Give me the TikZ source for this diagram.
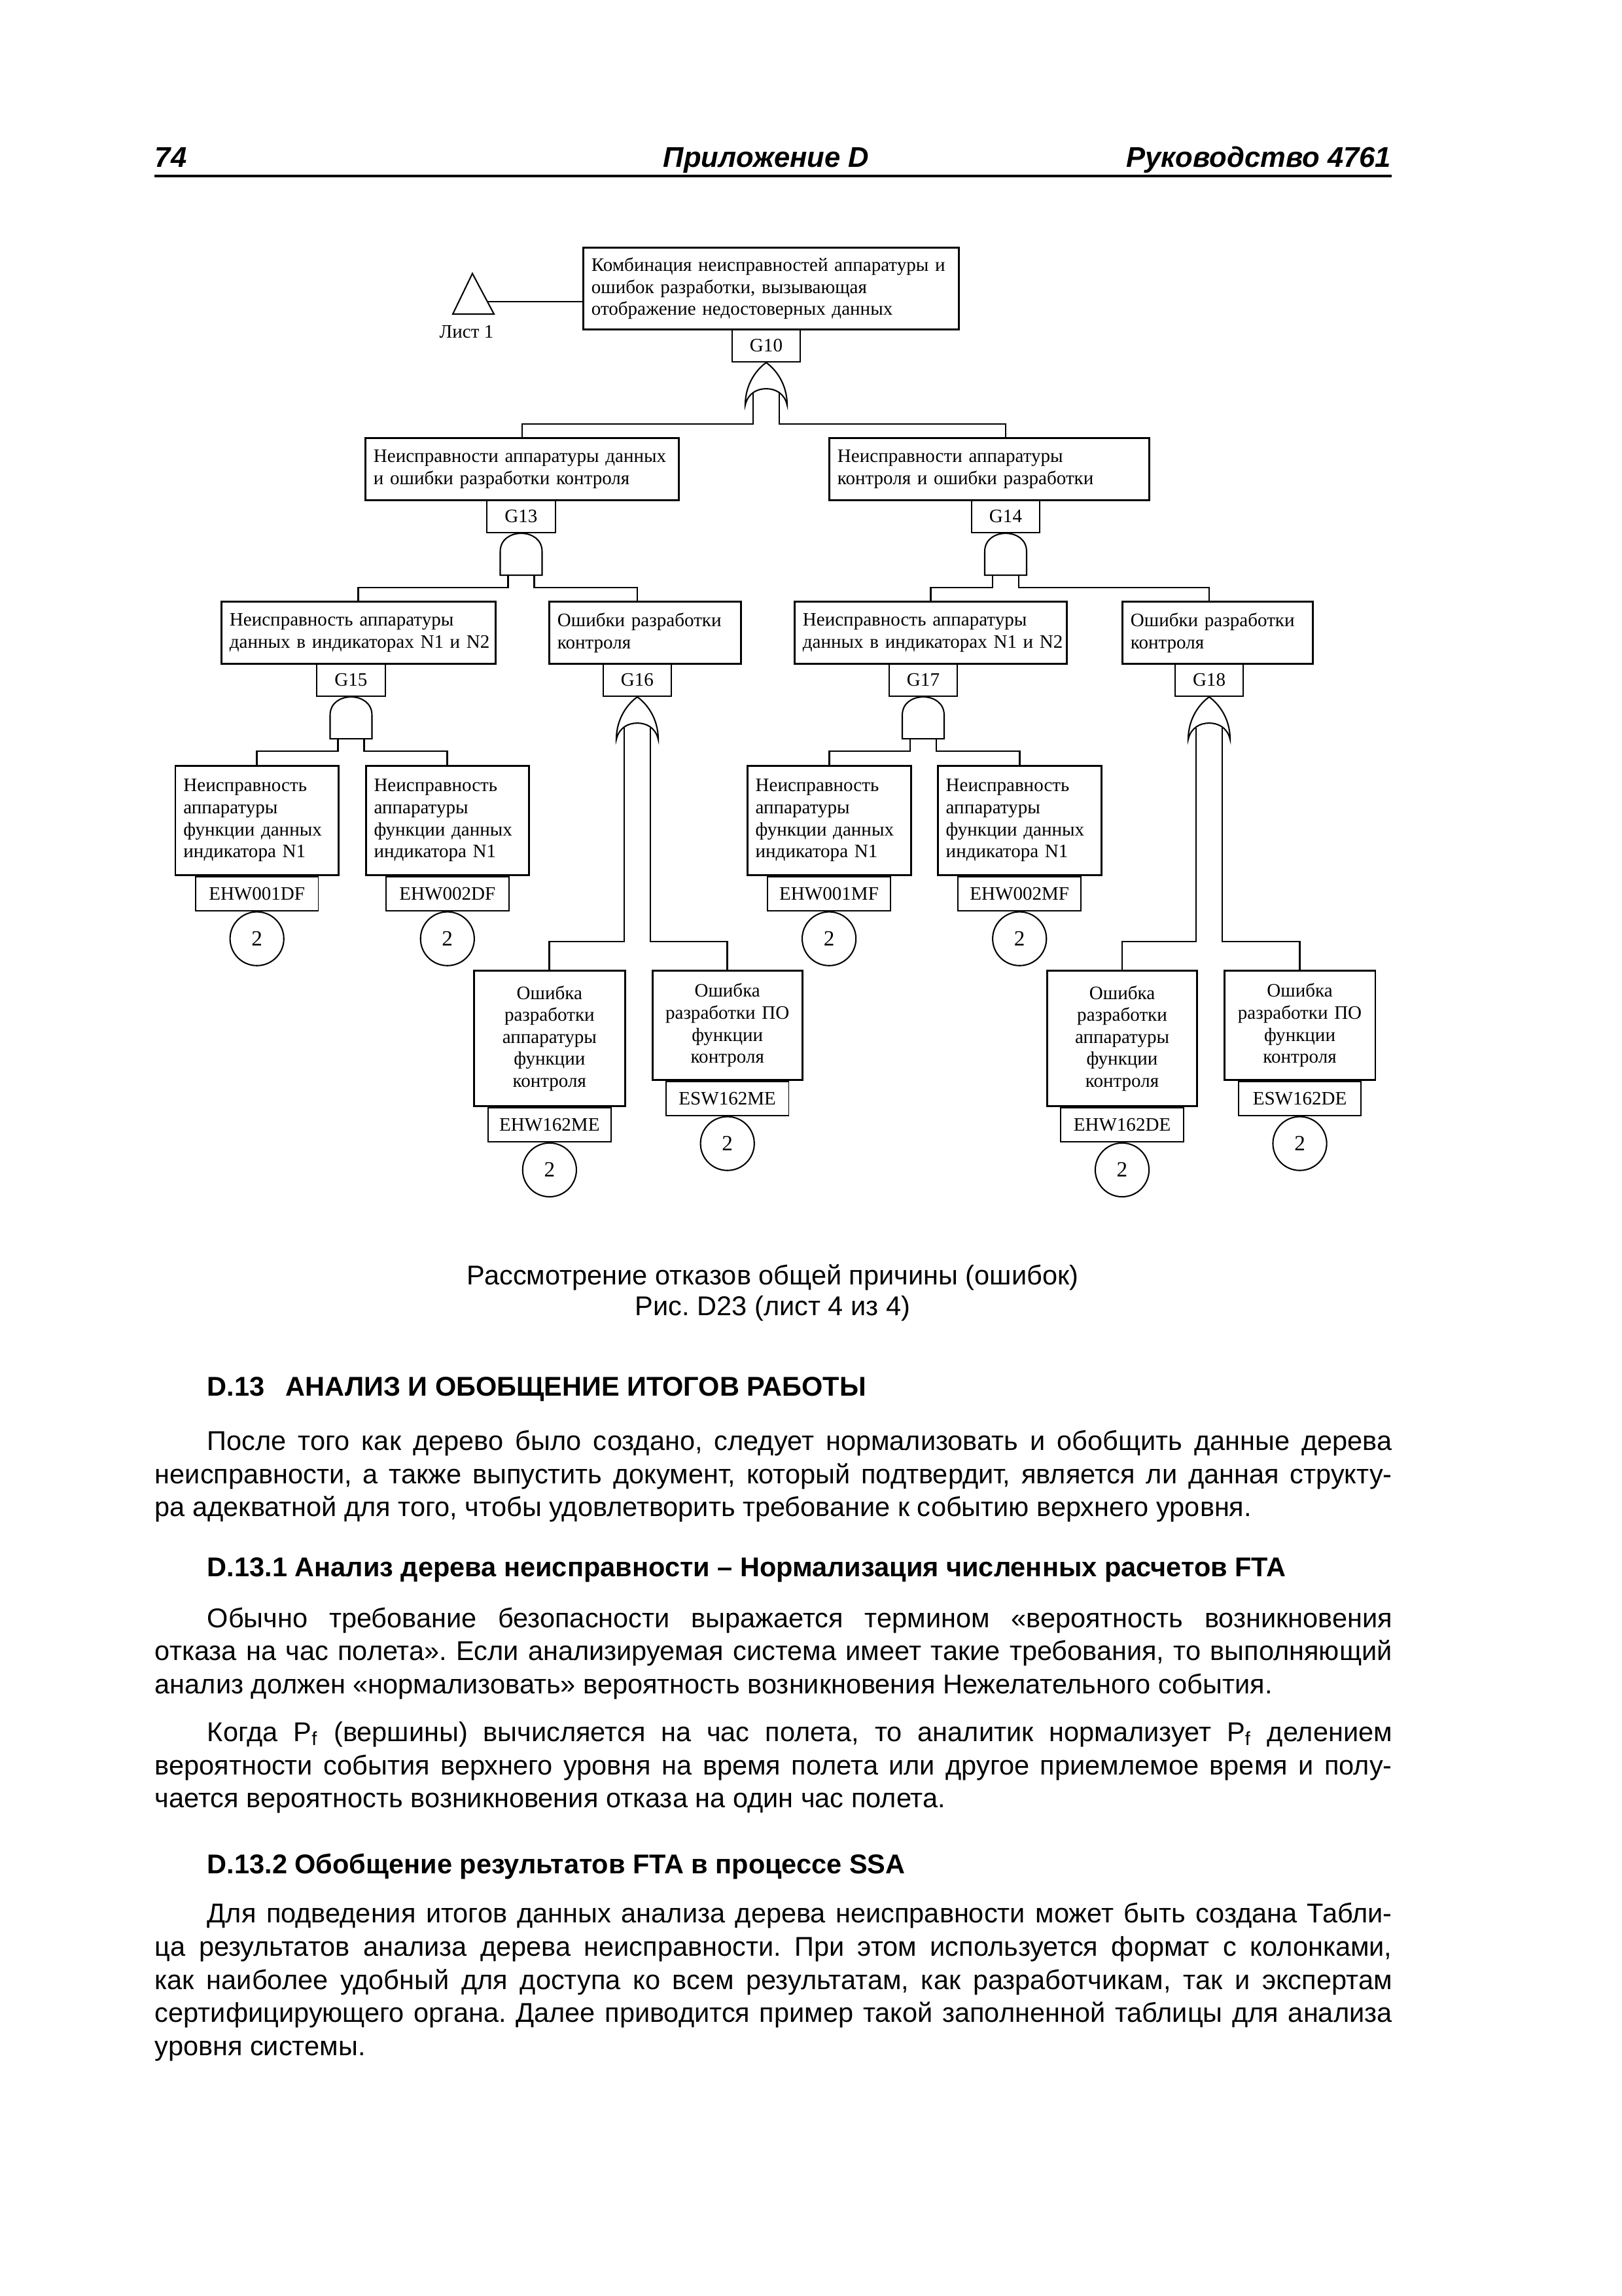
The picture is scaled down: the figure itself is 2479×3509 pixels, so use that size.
\documentclass[tikz,border=0pt]{standalone}
\usepackage{fontspec}
\setmainfont{Liberation Sans}
\newfontfamily\diagfont{Liberation Serif}
\usetikzlibrary{positioning}
\frenchspacing

\begin{document}
\begin{tikzpicture}[x=0.2409pt, y=-0.2409pt,
    wire/.style={line width=0.7pt},
    gateline/.style={line width=0.5pt},
    evbox/.style={draw, line width=0.7pt, anchor=north west, inner xsep=3pt, inner ysep=0pt,
        align=left, font=\diagfont\fontsize{7}{8.1}\selectfont},
    evboxc/.style={evbox, align=center},
    gatelbl/.style={draw, line width=0.45pt, anchor=north, inner sep=0pt,
        minimum width=25.2pt, minimum height=12.1pt, font=\diagfont\fontsize{7}{8.1}\selectfont},
    baselbl/.style={gatelbl, minimum width=45.2pt, minimum height=12.5pt},
    sheetref/.style={draw, circle, line width=0.5pt, anchor=north, inner sep=0pt,
        minimum size=19.8pt, font=\diagfont\fontsize{8}{9}\selectfont},
    bodyline/.style={anchor=base west, inner sep=0pt, font=\fontsize{10}{12.15}\selectfont},
    headline/.style={anchor=base west, inner sep=0pt, font=\bfseries\fontsize{10}{12.15}\selectfont},
    pagehead/.style={inner sep=0pt, font=\bfseries\itshape\fontsize{10.5}{12}\selectfont},
    pics/andgate/.style={code={
        \draw[gateline] (-32,64) -- (-32,28) .. controls (-32,9) and (-16,0) .. (0,0)
            .. controls (16,0) and (32,9) .. (32,28) -- (32,64) -- cycle;
        \coordinate (-l) at (-20,64);
        \coordinate (-r) at (20,64);
    }},
    pics/orgate/.style={code={
        \draw[gateline] (0,0) .. controls (14,10) and (32,32) .. (32,65)
            .. controls (28,47) and (14,40) .. (0,40)
            .. controls (-14,40) and (-28,47) .. (-32,65)
            .. controls (-32,32) and (-14,10) .. (0,0) -- cycle;
        \coordinate (-l) at (-20,46);
        \coordinate (-r) at (20,46);
    }}]
    \useasboundingbox (0,0) rectangle (2479,3509);
    \fill[white] (0,0) rectangle (2479,3509);

    % --- Колонтитул ---
    \node (pgnum) [pagehead, anchor=base west] at (236,255) {74};
    \node (pgmid) [pagehead, anchor=base] at (1171,255) {Приложение D};
    \node (pgright) [pagehead, anchor=base east] at (2127,255) {Руководство 4761};
    \draw[line width=1pt] (236,269) -- (2127,269);

    % --- Вершина и перенос с листа 1 ---
    \node (top) [evbox, text width=132.2pt, minimum height=30.1pt] at (890,377)
        {Комбинация неисправностей аппаратуры и\\ошибок разработки, вызывающая\\отображение недостоверных данных};
    \draw[gateline] (722,418) -- (692,480) -- (755,480) -- cycle;
    \coordinate (xferpt) at (745,461);
    \draw[wire] (xferpt) -- (xferpt -| top.west);
    \node (sheet1) [font=\diagfont\fontsize{7}{8.1}\selectfont] at (713,507) {Лист 1};
    \node (g10) [gatelbl] at (1171,502) {G10};
    \pic (g10gate) at (g10.south) {orgate};

    % --- Второй уровень ---
    \node (g13box) [evbox, text width=109.4pt, minimum height=22.9pt] at (557,668)
        {Неисправности аппаратуры данных\\и ошибки разработки контроля};
    \node (g14box) [evbox, text width=111.9pt, minimum height=22.9pt] at (1266,668)
        {Неисправности аппаратуры\\контроля и ошибки разработки};
    \node (g13) [gatelbl] at (796.5,763) {G13};
    \node (g14) [gatelbl] at (1537,763) {G14};
    \pic (g13gate) at (g13.south) {andgate};
    \pic (g14gate) at (g14.south) {andgate};

    % --- Третий уровень ---
    \node (g15box) [evbox, text width=94.9pt, minimum height=22.9pt] at (337,918)
        {Неисправность аппаратуры\\данных~в~индикаторах~N1~и~N2};
    \node (g16box) [evbox, text width=64.6pt, minimum height=22.9pt] at (838,918)
        {Ошибки разработки\\контроля};
    \node (g17box) [evbox, text width=94.3pt, minimum height=22.9pt] at (1213,918)
        {Неисправность аппаратуры\\данных~в~индикаторах~N1~и~N2};
    \node (g18box) [evbox, text width=64.2pt, minimum height=22.9pt] at (1714,918)
        {Ошибки разработки\\контроля};
    \node (g15) [gatelbl] at (536.5,1013) {G15};
    \node (g16) [gatelbl] at (974,1013) {G16};
    \node (g17) [gatelbl] at (1411,1013) {G17};
    \node (g18) [gatelbl] at (1848,1013) {G18};
    \pic (g15gate) at (g15.south) {andgate};
    \pic (g16gate) at (g16.south) {orgate};
    \pic (g17gate) at (g17.south) {andgate};
    \pic (g18gate) at (g18.south) {orgate};

    % --- Базовые события: неисправности аппаратуры ---
    \node (e1df) [evbox, text width=54.1pt, minimum height=40.2pt] at (266.5,1169)
        {Неисправность\\аппаратуры\\функции данных\\индикатора N1};
    \node (e2df) [evbox, text width=54.1pt, minimum height=40.2pt] at (557.6,1169)
        {Неисправность\\аппаратуры\\функции данных\\индикатора N1};
    \node (e1mf) [evbox, text width=54.2pt, minimum height=40.2pt] at (1140.7,1169)
        {Неисправность\\аппаратуры\\функции данных\\индикатора N1};
    \node (e2mf) [evbox, text width=54.2pt, minimum height=40.2pt] at (1431.8,1169)
        {Неисправность\\аппаратуры\\функции данных\\индикатора N1};
    \node (l1df) [baselbl] at (e1df.south) {EHW001DF};
    \node (l2df) [baselbl] at (e2df.south) {EHW002DF};
    \node (l1mf) [baselbl] at (e1mf.south) {EHW001MF};
    \node (l2mf) [baselbl] at (e2mf.south) {EHW002MF};
    \node (c1df) [sheetref] at (l1df.south) {2};
    \node (c2df) [sheetref] at (l2df.south) {2};
    \node (c1mf) [sheetref] at (l1mf.south) {2};
    \node (c2mf) [sheetref] at (l2mf.south) {2};

    % --- Базовые события: ошибки разработки ---
    \node (hwme) [evboxc, text width=49.6pt, minimum height=49.9pt] at (723,1482)
        {Ошибка\\разработки\\аппаратуры\\функции\\контроля};
    \node (swme) [evboxc, text width=49.2pt, minimum height=40.2pt] at (995.7,1482)
        {Ошибка\\разработки ПО\\функции\\контроля};
    \node (hwde) [evboxc, text width=49.2pt, minimum height=49.9pt] at (1599,1482)
        {Ошибка\\разработки\\аппаратуры\\функции\\контроля};
    \node (swde) [evboxc, text width=49.6pt, minimum height=40.2pt] at (1869.7,1482)
        {Ошибка\\разработки ПО\\функции\\контроля};
    \node (lhwme) [baselbl] at (hwme.south) {EHW162ME};
    \node (lswme) [baselbl] at (swme.south) {ESW162ME};
    \node (lhwde) [baselbl] at (hwde.south) {EHW162DE};
    \node (lswde) [baselbl] at (swde.south) {ESW162DE};
    \node (chwme) [sheetref] at (lhwme.south) {2};
    \node (cswme) [sheetref] at (lswme.south) {2};
    \node (chwde) [sheetref] at (lhwde.south) {2};
    \node (cswde) [sheetref] at (lswde.south) {2};

    % --- Связи ---
    \coordinate (h10) at (0,648);
    \coordinate (h13) at (0,898);
    \coordinate (h15) at (0,1148);
    \coordinate (h16) at (0,1439);
    \draw[wire] (g10gate-l) -- (g10gate-l |- h10) -| (g13box.north);
    \draw[wire] (g10gate-r) -- (g10gate-r |- h10) -| (g14 |- g14box.north);
    \draw[wire] (g13gate-l) -- (g13gate-l |- h13) -| (g15box.north);
    \draw[wire] (g13gate-r) -- (g13gate-r |- h13) -| (g16 |- g16box.north);
    \draw[wire] (g14gate-l) -- (g14gate-l |- h13) -| (g17box.north);
    \draw[wire] (g14gate-r) -- (g14gate-r |- h13) -| (g18 |- g18box.north);
    \draw[wire] (g15gate-l) -- (g15gate-l |- h15) -| (e1df.north);
    \draw[wire] (g15gate-r) -- (g15gate-r |- h15) -| (e2df.north);
    \draw[wire] (g17gate-l) -- (g17gate-l |- h15) -| (e1mf.north);
    \draw[wire] (g17gate-r) -- (g17gate-r |- h15) -| (e2mf.north);
    \draw[wire] (g16gate-l) -- (g16gate-l |- h16) -| (hwme.north);
    \draw[wire] (g16gate-r) -- (g16gate-r |- h16) -| (swme.north);
    \draw[wire] (g18gate-l) -- (g18gate-l |- h16) -| (hwde.north);
    \draw[wire] (g18gate-r) -- (g18gate-r |- h16) -| (swde.north);

    % --- Подпись рисунка ---
    \node (cap1) [bodyline, anchor=base] at (1181,1963) {Рассмотрение отказов общей причины (ошибок)};
    \node (cap2) [bodyline, anchor=base] at (1181,2010) {Рис. D23 (лист 4 из 4)};

    % --- Текст ---
    \node (hd1) [headline] at (316,2133) {D.13\hspace{5pt} АНАЛИЗ И ОБОБЩЕНИЕ ИТОГОВ РАБОТЫ};
    \node (p1a) [bodyline] at (316,2216) {\makebox[436.3pt][s]{После того как дерево было создано, следует нормализовать и обобщить данные дерева}};
    \node (p1b) [bodyline] at (236,2267) {\makebox[455.5pt][s]{неисправности, а также выпустить документ, который подтвердит, является ли данная структу-}};
    \node (p1c) [bodyline] at (236,2317) {ра адекватной для того, чтобы удовлетворить требование к событию верхнего уровня.};

    \node (hd2) [headline] at (316,2409) {D.13.1 Анализ дерева неисправности – Нормализация численных расчетов FTA};
    \node (p2a) [bodyline] at (316,2487) {\makebox[436.3pt][s]{Обычно требование безопасности выражается термином «вероятность возникновения}};
    \node (p2b) [bodyline] at (236,2537) {\makebox[455.5pt][s]{отказа на час полета». Если анализируемая система имеет такие требования, то выполняющий}};
    \node (p2c) [bodyline] at (236,2588) {анализ должен «нормализовать» вероятность возникновения Нежелательного события.};

    \node (p3a) [bodyline] at (316,2661) {\makebox[436.3pt][s]{Когда P\textsubscript{f} (вершины) вычисляется на час полета, то аналитик нормализует P\textsubscript{f} делением}};
    \node (p3b) [bodyline] at (236,2712) {\makebox[455.5pt][s]{вероятности события верхнего уровня на время полета или другое приемлемое время и полу-}};
    \node (p3c) [bodyline] at (236,2762) {чается вероятность возникновения отказа на один час полета.};

    \node (hd3) [headline] at (316,2863) {D.13.2 Обобщение результатов FTA в процессе SSA};
    \node (p4a) [bodyline] at (316,2938) {\makebox[436.3pt][s]{Для подведения итогов данных анализа дерева неисправности может быть создана Табли-}};
    \node (p4b) [bodyline] at (236,2989) {\makebox[455.5pt][s]{ца результатов анализа дерева неисправности. При этом используется формат с колонками,}};
    \node (p4c) [bodyline] at (236,3040) {\makebox[455.5pt][s]{как наиболее удобный для доступа ко всем результатам, как разработчикам, так и экспертам}};
    \node (p4d) [bodyline] at (236,3090) {\makebox[455.5pt][s]{сертифицирующего органа. Далее приводится пример такой заполненной таблицы для анализа}};
    \node (p4e) [bodyline] at (236,3141) {уровня системы.};
\end{tikzpicture}
\end{document}
